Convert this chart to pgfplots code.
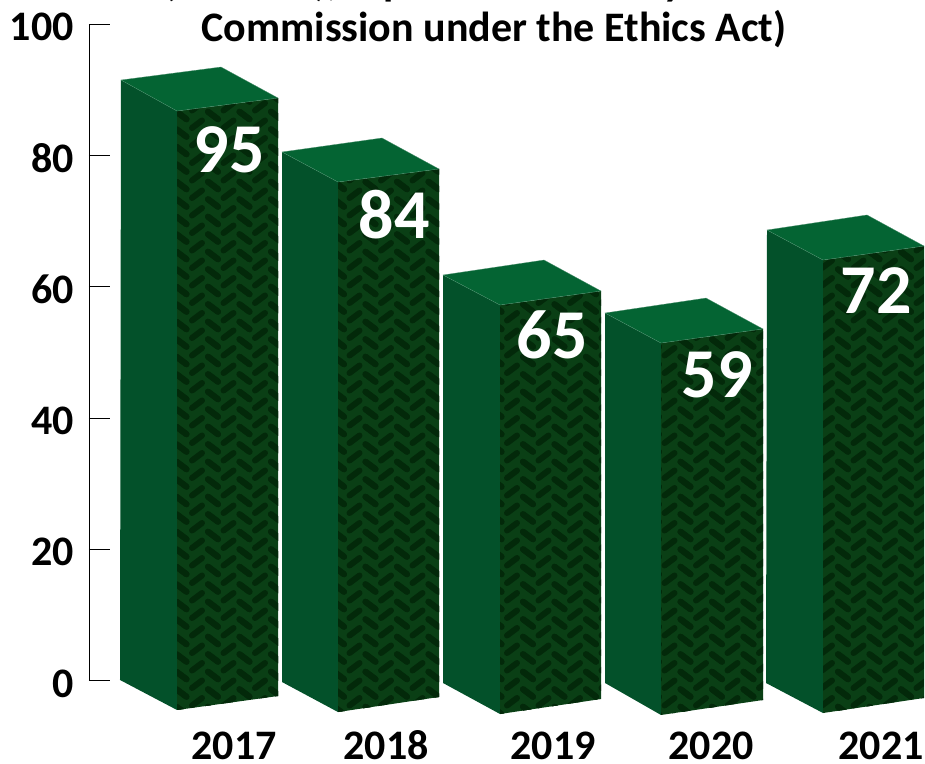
\documentclass[border=0pt]{standalone}
\usepackage{fontspec}
\setmainfont{Carlito}
\usepackage{pgfplots}
\pgfplotsset{compat=1.18}
\usetikzlibrary{patterns}

\definecolor{topface}{HTML}{046433}
\definecolor{sideface}{HTML}{03512A}
\definecolor{frontbase}{HTML}{0A3F15}
\definecolor{frontdark}{HTML}{03290A}

% herringbone fill of the front faces
\pgfdeclarepatternformonly{herring}{\pgfqpoint{-1pt}{-8pt}}{\pgfqpoint{33pt}{26pt}}{\pgfqpoint{31.5pt}{17.5pt}}{
  \pgfsetlinewidth{6pt}
  \pgfsetroundcap
  \pgfpathmoveto{\pgfqpoint{3pt}{5pt}}\pgfpathlineto{\pgfqpoint{13pt}{12.5pt}}
  \pgfpathmoveto{\pgfqpoint{19pt}{21.25pt}}\pgfpathlineto{\pgfqpoint{29pt}{13.75pt}}
  \pgfpathmoveto{\pgfqpoint{19pt}{3.75pt}}\pgfpathlineto{\pgfqpoint{29pt}{-3.75pt}}
  \pgfusepath{stroke}
}

\pgfplotsset{
  side/.style={draw=none, fill=sideface},
  top/.style={draw=topface!70!white, line width=0.3pt, fill=topface},
  front/.style={draw=none, preaction={fill=frontbase}, pattern=herring, pattern color=frontdark},
}
\newcommand{\bold}[1]{\fontsize{#1}{#1}\selectfont\bfseries}

\begin{document}
\begin{tikzpicture}
  \begin{axis}[
    scale only axis, width=836pt, height=656.7pt,
    xmin=89, xmax=925,
    ymin=0, ymax=100,
    axis x line=none,
    axis y line=left,
    y axis line style={-, line width=0.8pt},
    ytick={0,20,...,100},
    tick align=inside,
    major tick length=21pt,
    y tick style={black, line width=0.8pt},
    /pgf/number format/assume math mode=true,
    yticklabel style={font=\bold{42}, inner sep=0pt, xshift=-15pt, yshift=-3pt},
    clip=false,
  ]
    % 2017
    \addplot[side] coordinates {(120,0.11) (177,-4.46) (177,86.75) (121,91.47)} -- cycle;
    \addplot[front] coordinates {(177,-4.46) (278,-2.33) (278,88.73) (177,86.75)} -- cycle;
    \addplot[top] coordinates {(121,91.47) (221,93.45) (278,88.73) (177,86.75)} -- cycle;
    % 2018
    \addplot[side] coordinates {(282,-0.20) (338,-4.77) (338,75.94) (282,80.51)} -- cycle;
    \addplot[front] coordinates {(338,-4.77) (439,-2.48) (439,77.92) (338,75.94)} -- cycle;
    \addplot[top] coordinates {(282,80.51) (382,82.64) (439,77.92) (338,75.94)} -- cycle;
    % 2019
    \addplot[side] coordinates {(443,-0.35) (500,-5.07) (500,57.21) (443,61.78)} -- cycle;
    \addplot[front] coordinates {(500,-5.07) (601,-2.79) (601,59.34) (500,57.21)} -- cycle;
    \addplot[top] coordinates {(443,61.78) (544,64.06) (601,59.34) (500,57.21)} -- cycle;
    % 2020
    \addplot[side] coordinates {(605,-0.35) (661,-5.22) (661,51.42) (605,55.99)} -- cycle;
    \addplot[front] coordinates {(661,-5.22) (763,-2.94) (763,53.56) (661,51.42)} -- cycle;
    \addplot[top] coordinates {(605,55.99) (706,58.27) (763,53.56) (661,51.42)} -- cycle;
    % 2021
    \addplot[side] coordinates {(766,-0.35) (823,-4.92) (823,64.06) (767,68.63)} -- cycle;
    \addplot[front] coordinates {(823,-4.92) (924,-2.63) (924,66.19) (823,64.06)} -- cycle;
    \addplot[top] coordinates {(767,68.63) (867,70.92) (924,66.19) (823,64.06)} -- cycle;

    % value labels
    \node[white, font=\bold{70}] at (axis cs:229,80.82) {95};
    \node[white, font=\bold{70}] at (axis cs:394,70.92) {84};
    \node[white, font=\bold{70}] at (axis cs:552,52.65) {65};
    \node[white, font=\bold{70}] at (axis cs:717,46.56) {59};
    \node[white, font=\bold{70}] at (axis cs:876,59.34) {72};

    % years
    \node[font=\bold{42}, anchor=base, inner sep=0pt] at (axis cs:234,-12.05) {2017};
    \node[font=\bold{42}, anchor=base, inner sep=0pt] at (axis cs:386,-12.05) {2018};
    \node[font=\bold{42}, anchor=base, inner sep=0pt] at (axis cs:553,-12.05) {2019};
    \node[font=\bold{42}, anchor=base, inner sep=0pt] at (axis cs:711,-12.05) {2020};
    \node[font=\bold{42}, anchor=base, inner sep=0pt] at (axis cs:881,-12.05) {2021};

    % title, its first line cut off by the top edge
    \node[font=\bold{42}, anchor=base west, inner sep=0pt] at (axis cs:163,104.3) {(number), reports received by the};
    \node[font=\bold{42}, anchor=base, inner sep=0pt] at (axis cs:494,97.41) {Commission under the Ethics Act)};
  \end{axis}
  \pgfresetboundingbox
  \path[use as bounding box] (-89pt,-82.3pt) rectangle (836pt,680.7pt);
\end{tikzpicture}
\end{document}
